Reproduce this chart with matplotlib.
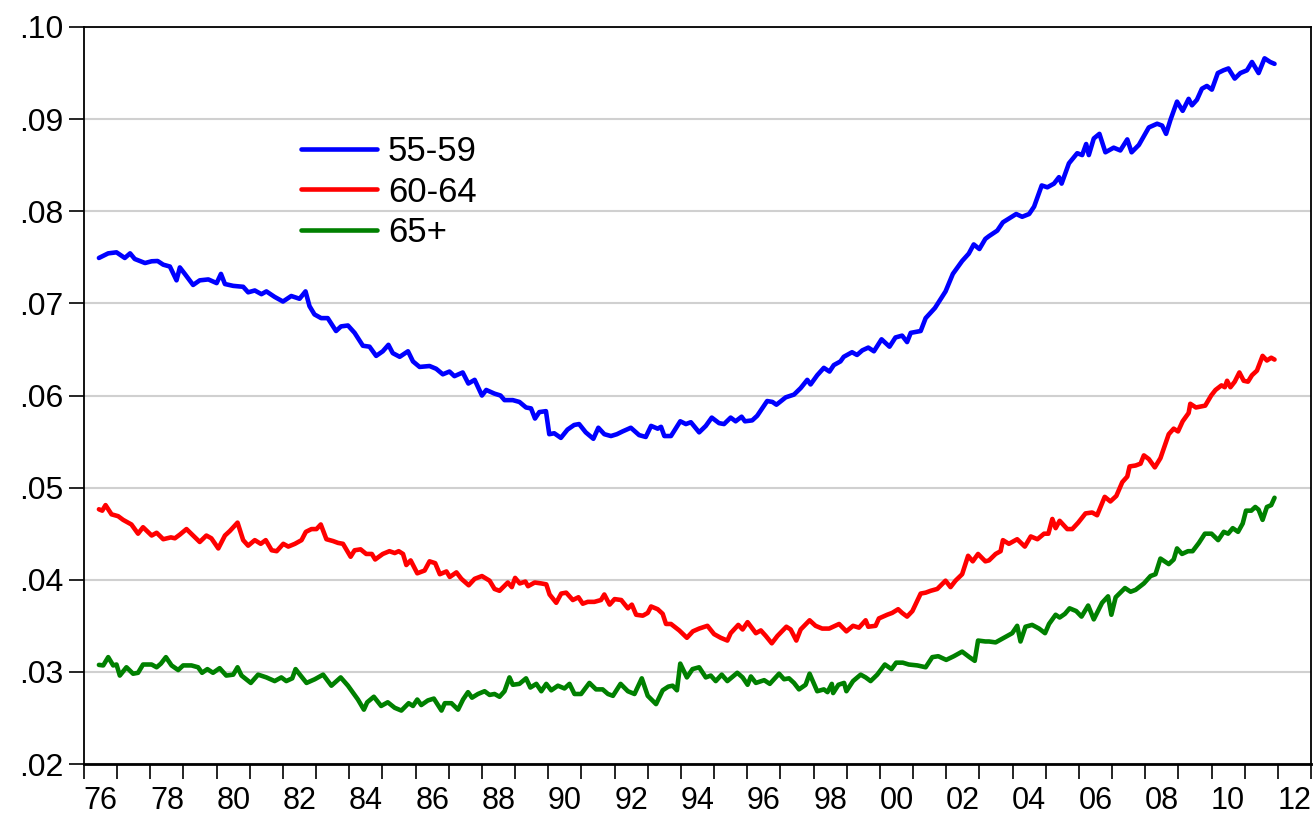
import matplotlib
matplotlib.use("Agg")
import matplotlib.pyplot as plt
import numpy as np

# readings from the picture: (year, value)
blue_pts = [
    (76.45, .07493), (76.73, .07543), (76.98, .07554), (77.23, .07493), (77.39, .07543),
    (77.53, .07482), (77.84, .07438), (78.04, .07457), (78.22, .0746), (78.39, .0742),
    (78.59, .0740), (78.79, .0725), (78.89, .0739), (79.04, .0732), (79.29, .0720),
    (79.49, .0725), (79.75, .0726), (80.0, .0722), (80.13, .0732), (80.25, .0721),
    (80.5, .0719), (80.8, .0718), (80.95, .0712), (81.15, .0714), (81.35, .0710),
    (81.5, .0713), (81.75, .0707), (82.0, .0702), (82.25, .0708), (82.5, .0705),
    (82.68, .0713), (82.8, .0697), (82.95, .0688), (83.15, .0684), (83.35, .0684),
    (83.6, .0670), (83.75, .0675), (83.96, .0676), (84.16, .0668), (84.41, .0654),
    (84.61, .0653), (84.81, .0643), (85.01, .0648), (85.18, .0655), (85.31, .0646),
    (85.52, .0642), (85.77, .0648), (85.92, .0637), (86.12, .0631), (86.42, .0632),
    (86.62, .0629), (86.82, .0623), (87.02, .0626), (87.17, .0621), (87.42, .0625),
    (87.59, .0613), (87.78, .0617), (88.0, .0600), (88.13, .0606), (88.38, .0602),
    (88.56, .0600), (88.68, .0595), (88.93, .0595), (89.13, .0593), (89.33, .0587),
    (89.48, .0586), (89.6, .0575), (89.73, .0582), (89.93, .0583), (90.03, .0558),
    (90.18, .0559), (90.38, .0554), (90.58, .0563), (90.78, .0568), (90.93, .0569),
    (91.13, .0560), (91.36, .0553), (91.51, .0565), (91.69, .0558), (91.89, .0556),
    (92.07, .0558), (92.24, .0561), (92.49, .0565), (92.74, .0557), (92.94, .0555),
    (93.1, .0567), (93.3, .0564), (93.4, .0566), (93.5, .0556), (93.7, .0556),
    (93.98, .0572), (94.15, .0569), (94.3, .0571), (94.55, .0560), (94.75, .0567),
    (94.93, .0576), (95.15, .0570), (95.3, .0569), (95.5, .0576), (95.65, .0572),
    (95.83, .0577), (95.93, .0572), (96.15, .0573), (96.3, .0578), (96.6, .0594),
    (96.76, .0593), (96.88, .0590), (97.16, .0598), (97.41, .0601), (97.61, .0608),
    (97.81, .0617), (97.91, .0612), (98.11, .0622), (98.31, .0630), (98.48, .0626),
    (98.61, .0633), (98.81, .0637), (98.91, .0642), (99.16, .0647), (99.31, .0644),
    (99.47, .0649), (99.65, .0652), (99.82, .0648), (100.05, .0661), (100.29, .0653),
    (100.47, .0663), (100.67, .0665), (100.82, .0658), (100.93, .0668), (101.23, .0670),
    (101.38, .0684), (101.66, .0695), (101.98, .0713), (102.2, .0732), (102.48, .0746),
    (102.68, .0754), (102.83, .0764), (103.0, .0759), (103.18, .0770), (103.29, .0773),
    (103.54, .0779), (103.71, .0788), (103.89, .0792), (104.11, .0797), (104.29, .0794),
    (104.5, .0797), (104.65, .0805), (104.88, .0828), (105.05, .0826), (105.25, .0830),
    (105.4, .0837), (105.48, .0830), (105.7, .0852), (105.95, .0863), (106.1, .0861),
    (106.22, .0873), (106.3, .0861), (106.45, .0879), (106.62, .0884), (106.8, .0864),
    (107.05, .0869), (107.25, .0866), (107.46, .0878), (107.59, .0864), (107.81, .0872),
    (108.11, .0891), (108.36, .0895), (108.51, .0893), (108.63, .0884), (108.76, .0899),
    (108.96, .0919), (109.13, .0909), (109.31, .0922), (109.41, .0915), (109.56, .0921),
    (109.71, .0933), (109.86, .0936), (110.01, .0932), (110.19, .0950), (110.36, .0953),
    (110.51, .0955), (110.7, .0944), (110.87, .0950), (111.07, .0953), (111.22, .0962),
    (111.42, .0950), (111.6, .0966), (111.77, .0962), (111.9, .0960),
]

red_pts = [
    (76.45, .04765), (76.55, .0475), (76.65, .0481), (76.83, .0471), (77.03, .0469),
    (77.18, .0465), (77.43, .0460), (77.63, .0450), (77.78, .0457), (78.04, .0448),
    (78.19, .0451), (78.39, .0444), (78.62, .0446), (78.74, .0445), (78.89, .0449),
    (79.09, .0455), (79.29, .0448), (79.49, .0441), (79.69, .0448), (79.84, .0445),
    (80.05, .0434), (80.25, .0448), (80.40, .0453), (80.63, .0462), (80.8, .0443),
    (80.95, .0437), (81.15, .0443), (81.33, .0439), (81.48, .0443), (81.66, .0432),
    (81.81, .0431), (82.01, .0439), (82.16, .0436), (82.36, .0439), (82.56, .0443),
    (82.69, .0452), (82.86, .0455), (83.01, .0455), (83.14, .0460), (83.31, .0444),
    (83.51, .0442), (83.66, .0440), (83.81, .0439), (83.91, .0433), (84.04, .0425),
    (84.16, .0432), (84.34, .0433), (84.51, .0428), (84.68, .0428), (84.78, .0422),
    (85.01, .0428), (85.21, .0431), (85.37, .0429), (85.49, .0431), (85.62, .0428),
    (85.72, .0416), (85.85, .0421), (86.05, .0407), (86.27, .0410), (86.42, .0420),
    (86.59, .0418), (86.73, .0406), (86.93, .0409), (87.03, .0403), (87.23, .0408),
    (87.38, .0401), (87.6, .0394), (87.78, .0401), (88.0, .0404), (88.23, .0399),
    (88.38, .0390), (88.53, .0388), (88.78, .0397), (88.9, .0392), (89.0, .0402),
    (89.14, .0396), (89.31, .0398), (89.39, .0393), (89.59, .0397), (89.79, .0396),
    (89.94, .0395), (90.04, .0384), (90.24, .0375), (90.39, .0385), (90.54, .0386),
    (90.74, .0378), (90.91, .0381), (91.04, .0374), (91.19, .0376), (91.39, .0376),
    (91.59, .0378), (91.69, .0384), (91.85, .0373), (92.0, .0379), (92.2, .0378),
    (92.4, .0369), (92.52, .0373), (92.65, .0362), (92.85, .0361), (93.0, .0364),
    (93.1, .0371), (93.3, .0368), (93.45, .0363), (93.55, .0352), (93.7, .0352),
    (93.95, .0345), (94.18, .0337), (94.36, .0344), (94.55, .0347), (94.8, .0350),
    (95.0, .0341), (95.2, .0337), (95.4, .0334), (95.5, .0342), (95.73, .0351),
    (95.86, .0346), (96.01, .0354), (96.26, .0342), (96.41, .0345), (96.56, .0339),
    (96.74, .0331), (96.91, .0339), (97.18, .0349), (97.31, .0346), (97.48, .0334),
    (97.61, .0346), (97.88, .0356), (98.06, .0350), (98.26, .0347), (98.47, .0347),
    (98.77, .0352), (98.99, .0344), (99.19, .0350), (99.37, .0348), (99.57, .0356),
    (99.65, .0349), (99.87, .0350), (99.97, .0358), (100.22, .0362), (100.37, .0364),
    (100.55, .0368), (100.67, .0364), (100.82, .0360), (100.98, .0366), (101.23, .0385),
    (101.38, .0386), (101.53, .0388), (101.73, .0390), (101.98, .0399), (102.13, .0392),
    (102.28, .0399), (102.48, .0406), (102.66, .0426), (102.8, .0420), (102.96, .0428),
    (103.18, .0420), (103.29, .0421), (103.49, .0428), (103.64, .0431), (103.71, .0443),
    (103.89, .0439), (104.14, .0444), (104.37, .0436), (104.55, .0447), (104.75, .0444),
    (104.95, .0450), (105.08, .0450), (105.2, .0466), (105.3, .0456), (105.42, .0464),
    (105.65, .0455), (105.8, .0455), (105.98, .0462), (106.2, .0472), (106.4, .0473),
    (106.55, .0470), (106.78, .0490), (106.95, .0485), (107.13, .0491), (107.31, .0506),
    (107.46, .0512), (107.53, .0523), (107.71, .0524), (107.86, .0526), (107.96, .0535),
    (108.11, .0531), (108.29, .0522), (108.46, .0532), (108.71, .0558), (108.86, .0564),
    (108.99, .0561), (109.13, .0572), (109.31, .0581), (109.36, .0591), (109.53, .0587),
    (109.81, .0589), (109.99, .0600), (110.12, .0606), (110.3, .0611), (110.4, .0609),
    (110.47, .0616), (110.57, .0609), (110.7, .0615), (110.84, .0625), (110.97, .0616),
    (111.1, .0615), (111.22, .0622), (111.37, .0627), (111.54, .0643), (111.67, .0638),
    (111.8, .0641), (111.9, .0639),
]

green_pts = [
    (76.45, .03076), (76.58, .0307), (76.73, .0316), (76.88, .0307), (76.98, .0308),
    (77.08, .0296), (77.28, .0305), (77.48, .0298), (77.63, .0299), (77.78, .0308),
    (78.04, .0308), (78.19, .0305), (78.32, .0309), (78.47, .0316), (78.64, .0307),
    (78.84, .0302), (78.99, .0307), (79.24, .0307), (79.44, .0305), (79.56, .0299),
    (79.72, .0303), (79.89, .0299), (80.09, .0304), (80.29, .0296), (80.5, .0297),
    (80.63, .0305), (80.75, .0296), (81.03, .0288), (81.25, .0297), (81.5, .0294),
    (81.75, .0290), (81.95, .0294), (82.1, .0290), (82.28, .0293), (82.38, .0303),
    (82.51, .0297), (82.71, .0288), (82.96, .0292), (83.21, .0297), (83.46, .0285),
    (83.74, .0294), (83.96, .0285), (84.26, .0270), (84.44, .0259), (84.54, .0267),
    (84.74, .0273), (84.96, .0263), (85.16, .0267), (85.37, .0261), (85.57, .0258),
    (85.79, .0266), (85.92, .0263), (86.05, .0270), (86.17, .0264), (86.37, .0269),
    (86.55, .0271), (86.78, .0258), (86.88, .0266), (87.08, .0266), (87.28, .0259),
    (87.43, .0270), (87.58, .0278), (87.7, .0272), (87.88, .0276), (88.08, .0279),
    (88.23, .0275), (88.38, .0276), (88.53, .0273), (88.68, .0279), (88.83, .0294),
    (88.93, .0286), (89.13, .0287), (89.33, .0293), (89.46, .0283), (89.64, .0287),
    (89.79, .0279), (89.94, .0287), (90.09, .0280), (90.29, .0285), (90.49, .0282),
    (90.64, .0287), (90.79, .0276), (90.99, .0276), (91.24, .0288), (91.44, .0281),
    (91.64, .0281), (91.8, .0276), (91.95, .0274), (92.18, .0287), (92.4, .0279),
    (92.6, .0276), (92.82, .0293), (93.0, .0274), (93.25, .0265), (93.45, .0280),
    (93.62, .0284), (93.75, .0285), (93.88, .0280), (93.98, .0309), (94.18, .0294),
    (94.35, .0303), (94.55, .0305), (94.75, .0294), (94.9, .0296), (95.05, .0290),
    (95.23, .0297), (95.4, .0290), (95.7, .0299), (95.86, .0294), (96.01, .0286),
    (96.11, .0295), (96.26, .0288), (96.51, .0291), (96.68, .0287), (96.96, .0298),
    (97.11, .0292), (97.26, .0293), (97.41, .0288), (97.56, .0281), (97.76, .0286),
    (97.88, .0298), (98.11, .0279), (98.31, .0281), (98.42, .0278), (98.55, .0287),
    (98.59, .0277), (98.75, .0286), (98.92, .0288), (98.99, .0279), (99.19, .0290),
    (99.42, .0297), (99.57, .0294), (99.72, .0290), (99.92, .0297), (100.15, .0308),
    (100.35, .0303), (100.49, .0310), (100.69, .0310), (100.87, .0308), (101.13, .0307),
    (101.38, .0305), (101.58, .0316), (101.76, .0317), (102.0, .0313), (102.23, .0317),
    (102.48, .0322), (102.7, .0316), (102.86, .0312), (102.96, .0334), (103.18, .0333),
    (103.29, .0333), (103.49, .0332), (103.74, .0337), (103.99, .0342), (104.14, .0350),
    (104.24, .0333), (104.39, .0349), (104.59, .0351), (104.8, .0347), (104.98, .0342),
    (105.1, .0352), (105.3, .0362), (105.42, .0359), (105.58, .0363), (105.72, .0369),
    (105.92, .0366), (106.08, .0360), (106.28, .0372), (106.45, .0357), (106.7, .0375),
    (106.88, .0382), (106.98, .0362), (107.11, .0381), (107.39, .0391), (107.56, .0387),
    (107.71, .0389), (107.96, .0396), (108.16, .0404), (108.31, .0406), (108.46, .0423),
    (108.71, .0417), (108.86, .0422), (108.96, .0434), (109.11, .0428), (109.29, .0431),
    (109.43, .0431), (109.62, .0440), (109.8, .0450), (110.0, .0450), (110.2, .0443),
    (110.37, .0452), (110.5, .0450), (110.64, .0456), (110.8, .0452), (110.94, .0461),
    (111.04, .0475), (111.2, .0475), (111.32, .0479), (111.42, .0476), (111.54, .0465),
    (111.67, .0479), (111.8, .0481), (111.9, .0489),
]

labels = ["55-59", "60-64", "65+"]
colors = ["#0000ff", "#ff0000", "#008000"]
yticks = [.02, .03, .04, .05, .06, .07, .08, .09, .10]
ytick_labels = [".02", ".03", ".04", ".05", ".06", ".07", ".08", ".09", ".10"]
year_labels = ["76", "78", "80", "82", "84", "86", "88", "90", "92", "94",
               "96", "98", "00", "02", "04", "06", "08", "10", "12"]

plt.rcParams['font.family'] = ['Liberation Sans', 'DejaVu Sans']

fig = plt.figure(figsize=(13.16, 8.19), dpi=100)
ax = fig.add_axes([84/1316, 55/819, (1311-84)/1316, (764-27)/819])

for pts, lab, col in zip([blue_pts, red_pts, green_pts], labels, colors):
    x = np.array([p[0] for p in pts]) + 1900
    y = np.array([p[1] for p in pts])
    ax.plot(x, y, color=col, lw=3.3, label=lab, solid_joinstyle='round',
            solid_capstyle='round')

ax.set_xlim(1976, 2013)
ax.set_ylim(.02, .10)

ax.set_yticks(yticks)
ax.set_yticklabels(ytick_labels, fontsize=23)
ax.yaxis.grid(True, color='#d0d0d0', lw=1.5)
ax.set_axisbelow(True)

# yearly ticks on the axis, labels centred in even years
ax.set_xticks(np.arange(1976, 2014))
ax.set_xticklabels([])
ax.set_xticks(np.arange(1976, 2013, 2) + 0.5, minor=True)
ax.set_xticklabels(year_labels, minor=True, fontsize=22)
ax.tick_params(axis='x', which='major', direction='out', length=11, width=1.2, color='black')
ax.tick_params(axis='x', which='minor', length=0, pad=16)
ax.tick_params(axis='y', direction='out', length=11, width=1.2, pad=4)

for s in ['left', 'top', 'right']:
    ax.spines[s].set_linewidth(1.3)
ax.spines['bottom'].set_linewidth(2)

ax.legend(loc='upper left', bbox_to_anchor=((301-84)/1227, (764-135)/737),
          frameon=False, fontsize=25, handlelength=2.2, handletextpad=0.3,
          labelspacing=0.22, borderpad=0, borderaxespad=0)

fig.savefig("out.png", dpi=100)
